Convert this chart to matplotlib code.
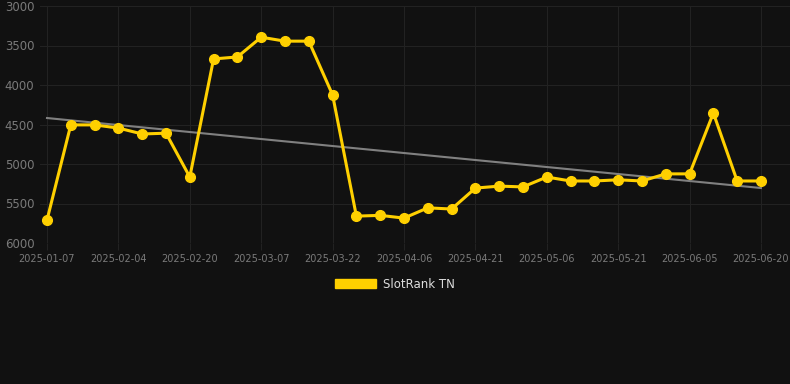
import numpy as np
import matplotlib.pyplot as plt
from matplotlib.patches import Patch

# rank values, one per point (category axis)
ranks = [5710, 4505, 4505, 4545, 4620, 4610, 5165, 3670, 3645, 3395,
         3445, 3445, 4125, 5660, 5650, 5685, 5555, 5570, 5305, 5280,
         5290, 5165, 5215, 5215, 5200, 5215, 5125, 5125, 4355, 5215, 5215]
tick_labels = ['2025-01-07', '2025-02-04', '2025-02-20', '2025-03-07', '2025-03-22',
               '2025-04-06', '2025-04-21', '2025-05-06', '2025-05-21', '2025-06-05',
               '2025-06-20']
trend_ends = [4418, 5304]

x = np.arange(len(ranks))

fig = plt.figure(figsize=(7.9, 3.84), dpi=100, facecolor='#111111')
ax = fig.add_axes([40/790, 1-243/384, 750/790, 237/384])
ax.set_facecolor('#111111')

ax.plot([x[0], x[-1]], trend_ends, color='#808080', lw=1.5, zorder=2)
ax.plot(x, ranks, color='#FFD000', lw=2.2, marker='o', markersize=7, zorder=3)

ax.set_ylim(6000, 3000)
ax.set_yticks([3000, 3500, 4000, 4500, 5000, 5500, 6000])
ax.set_xlim(-0.294, 31.22)
ax.set_xticks(x[::3])
ax.set_xticklabels(tick_labels)

ax.grid(True, color='#222222', lw=0.8)
ax.set_axisbelow(True)
for s in ax.spines.values():
    s.set_visible(False)
ax.tick_params(axis='y', length=0, pad=4, labelsize=8.5, labelcolor='#7a7a7a')
ax.tick_params(axis='x', length=5, color='#222222', pad=3, labelsize=7, labelcolor='#7a7a7a')

fig.legend(handles=[Patch(color='#FFD000', label='SlotRank TN')],
           loc='center', bbox_to_anchor=(0.5, 1-284/384), frameon=False,
           handlelength=3.4, handleheight=0.9, handletextpad=0.6,
           fontsize=8.5, labelcolor='#dddddd')

fig.savefig('out.png', facecolor='#111111')
